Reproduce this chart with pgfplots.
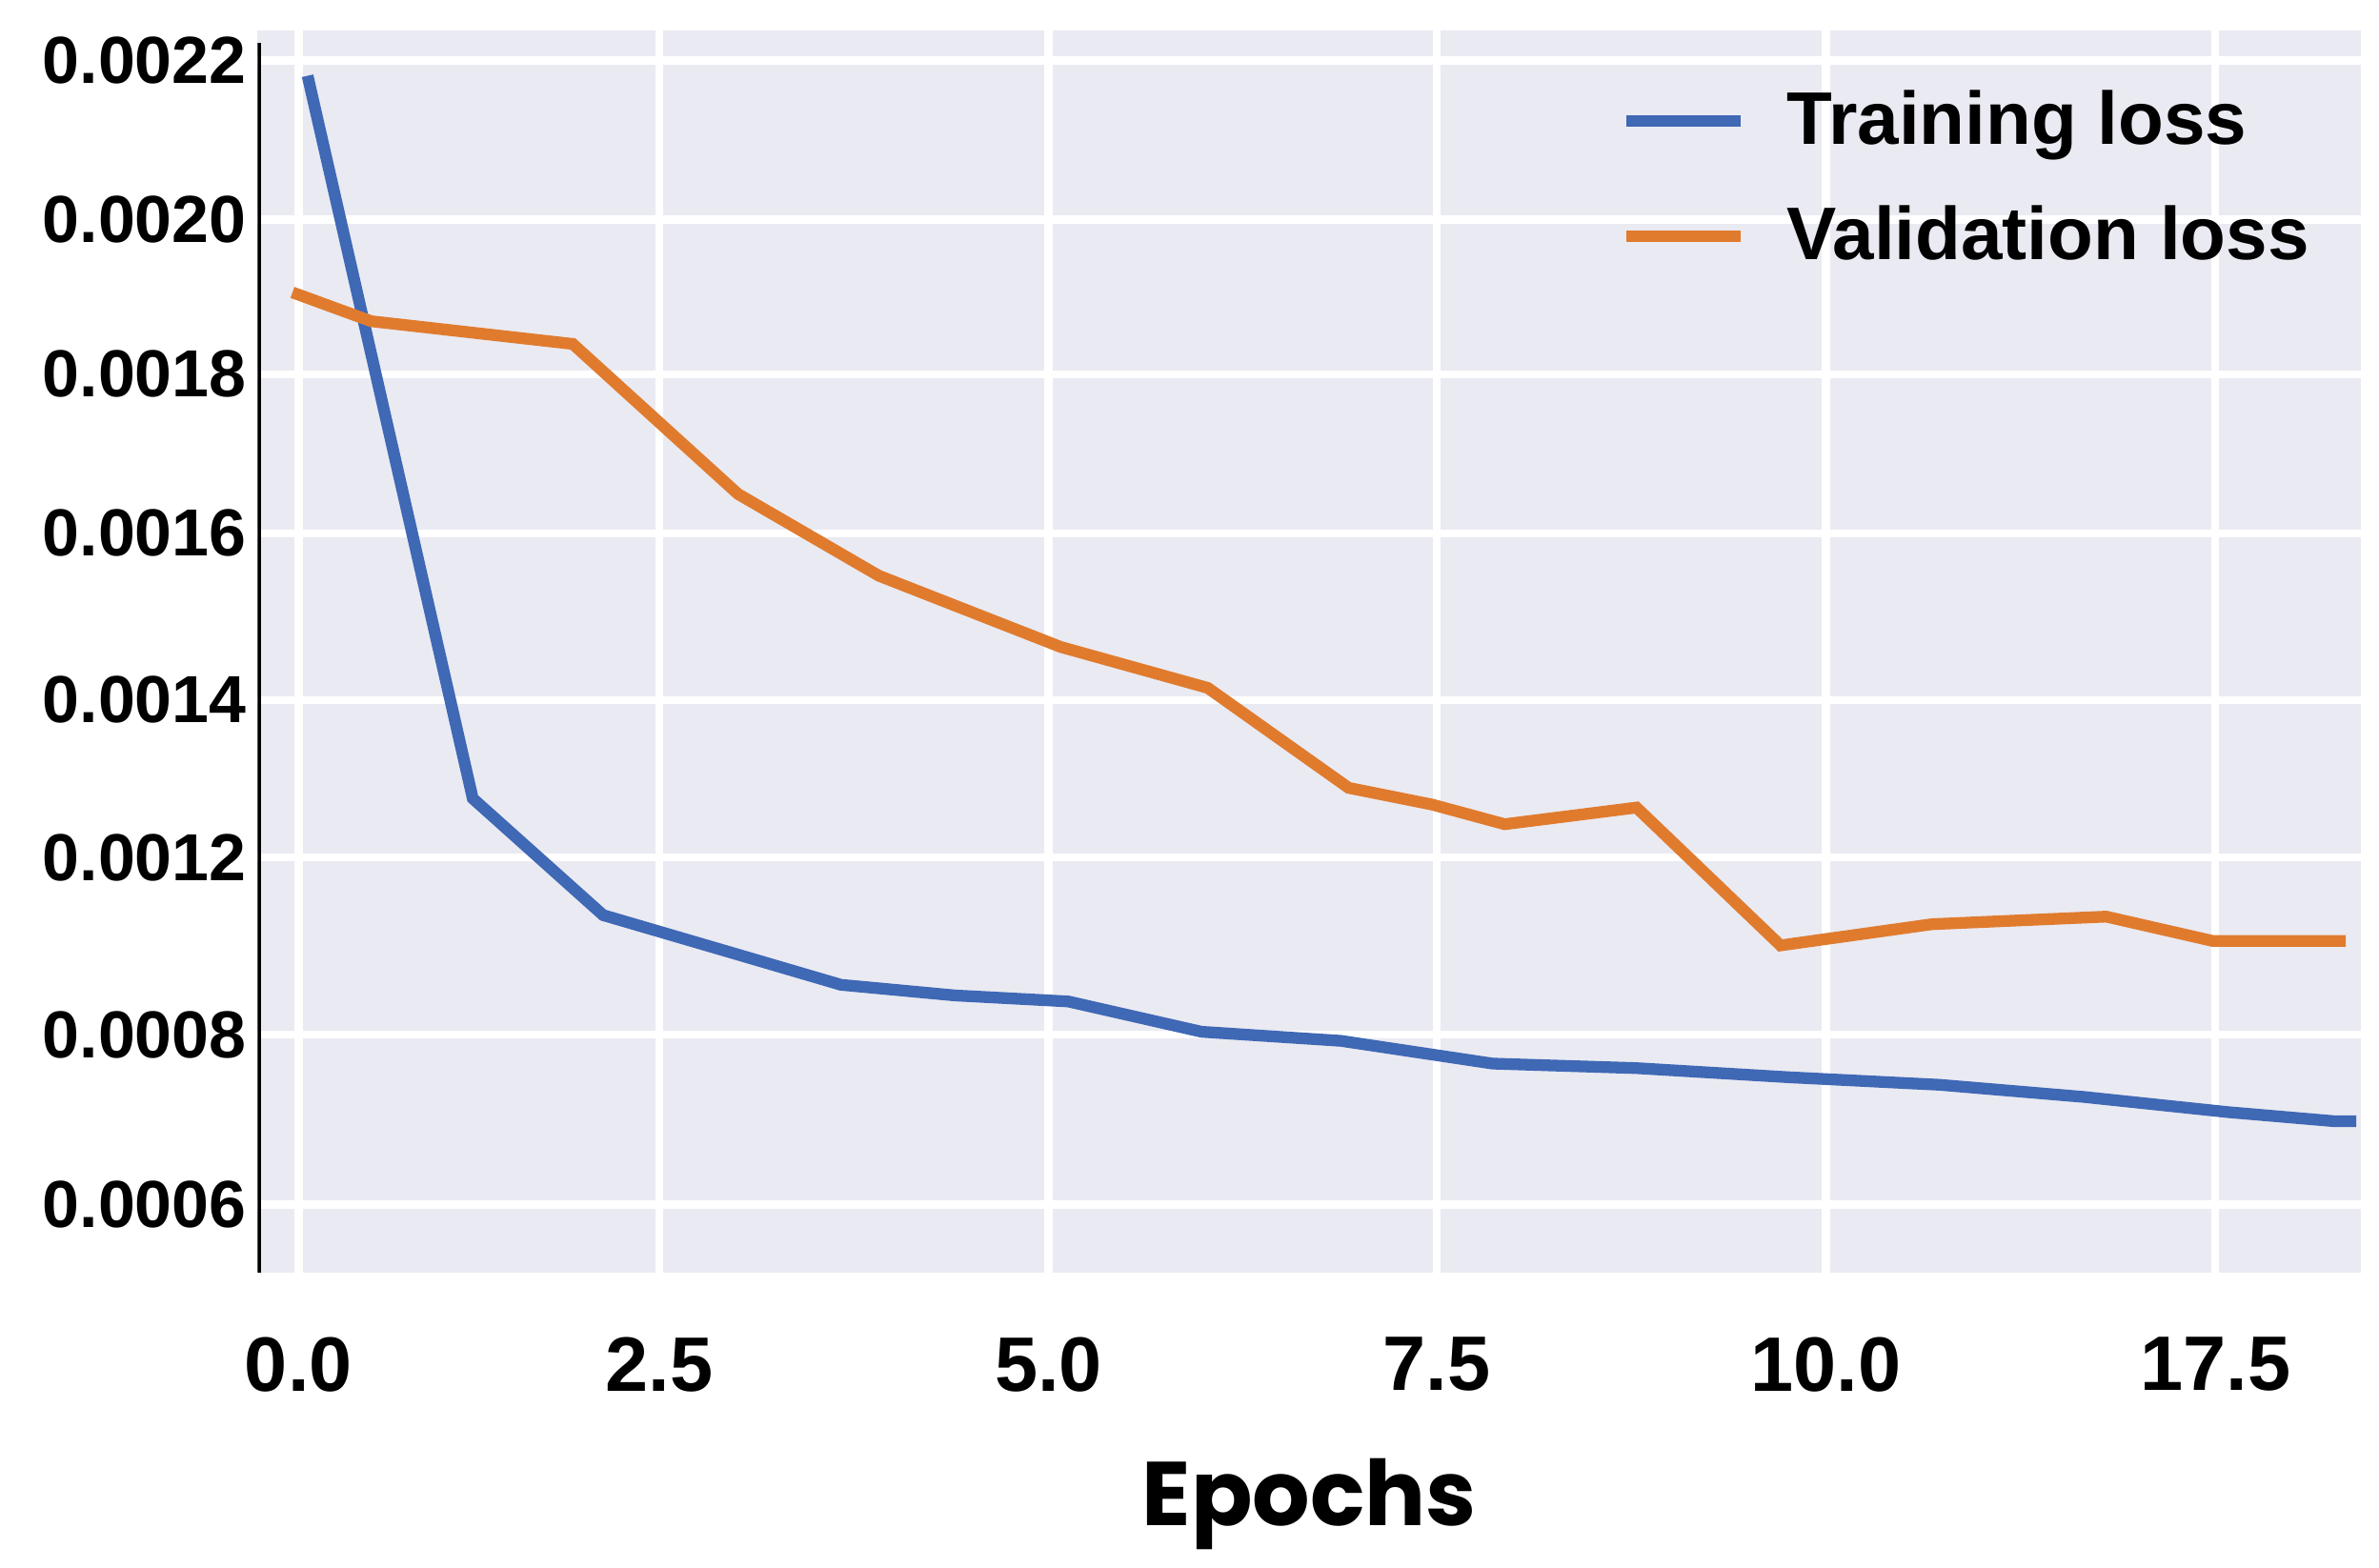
\documentclass[border=0pt]{standalone}
\usepackage{pgfplots}
\pgfplotsset{compat=1.18}
\usepackage{fontspec}
\setmainfont{Liberation Sans}
\newfontfamily\epfont{Poppins}
\definecolor{bg}{HTML}{EAEAF2}
\definecolor{tblue}{HTML}{3F68B5}
\definecolor{vorange}{HTML}{E07B2E}
\begin{document}
\begin{tikzpicture}
\path (-1.7,-1.84) rectangle (14.0,8.4);
\begin{axis}[
  scale only axis, width=13.88cm, height=8.2cm,
  xmin=1.70, xmax=15.58, ymin=-8.40, ymax=-0.20,
  axis background/.style={fill=bg},
  axis line style={draw=none},
  grid=major, major grid style={white, line width=1.5pt},
  tick style={draw=none},
  xtick={1.97,4.35,6.92,9.48,12.05,14.62},
  xticklabels={0.0,2.5,5.0,7.5,10.0,17.5},
  ytick={-7.95,-6.83,-5.66,-4.62,-3.52,-2.47,-1.45,-0.40},
  yticklabels={0.0006,0.0008,0.0012,0.0014,0.0016,0.0018,0.0020,0.0022},
  /pgf/number format/assume math mode=true,
  ticklabel style={font=\fontsize{12.5}{14}\selectfont\bfseries},
  xticklabel style={yshift=-0.3cm, font=\fontsize{14.5}{17}\selectfont\bfseries},
  yticklabel style={xshift=0.05cm},
  xlabel={\epfont\bfseries\fontsize{17}{20}\selectfont Epochs},
  xlabel style={yshift=-0.2cm},
  legend style={at={(0.64,0.97)}, anchor=north west, draw=none, fill=none,
    font=\fontsize{14}{17}\selectfont\bfseries, row sep=6pt},
  legend cell align=left,
  legend image code/.code={\draw[#1, line width=2.2pt] (0cm,0cm) -- (0.75cm,0cm);},
]
\addplot[tblue, line width=2.2pt] coordinates {
(2.03,-0.50)(3.12,-5.27)(3.98,-6.04)(4.80,-6.28)(5.55,-6.50)(6.30,-6.57)(7.05,-6.61)(7.93,-6.81)(8.85,-6.87)(9.85,-7.02)(10.80,-7.05)(11.80,-7.11)(12.80,-7.16)(13.75,-7.24)(14.70,-7.34)(15.40,-7.40)(15.55,-7.40)};
\addlegendentry{\hspace{0.2cm}Training loss}
\addplot[vorange, line width=2.2pt] coordinates {
(1.93,-1.93)(2.45,-2.12)(3.78,-2.27)(4.87,-3.26)(5.80,-3.80)(7.00,-4.27)(7.97,-4.54)(8.90,-5.20)(9.45,-5.31)(9.93,-5.44)(10.80,-5.33)(11.75,-6.24)(12.75,-6.10)(13.90,-6.05)(14.60,-6.21)(15.48,-6.21)};
\addlegendentry{\hspace{0.2cm}Validation loss}
\draw[black, line width=1.2pt] (axis cs:1.70,-8.40) -- (axis cs:1.70,-0.28);
\end{axis}
\end{tikzpicture}
\end{document}
